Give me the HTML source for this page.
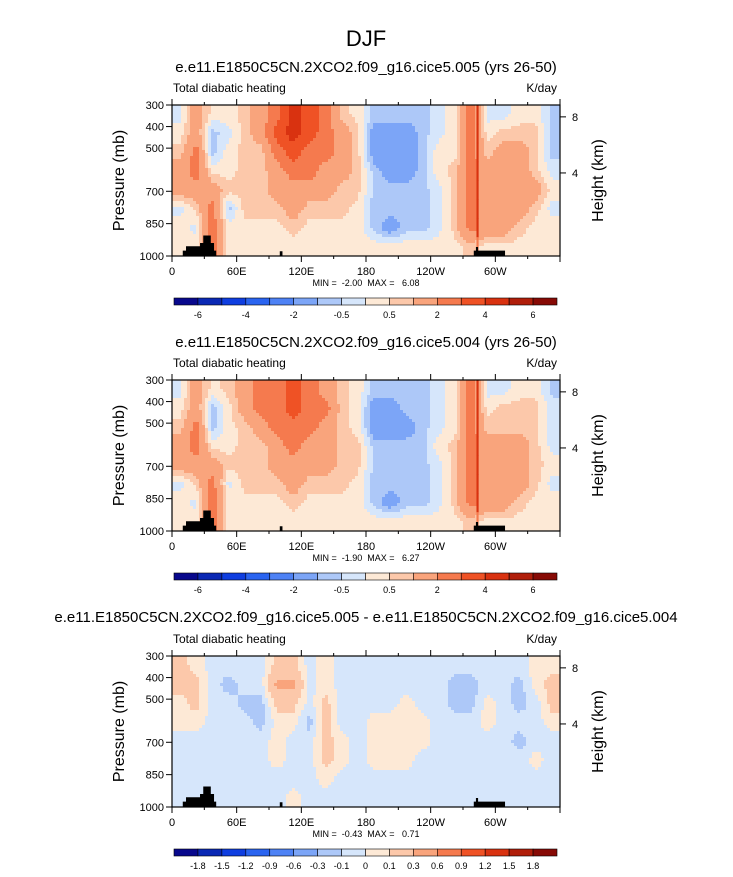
<!DOCTYPE html>
<html><head><meta charset="utf-8">
<style>
body{margin:0;background:#fff;}
svg text{font-family:"Liberation Sans",Arial,sans-serif;white-space:pre;}
</style></head>
<body>
<svg id="fig" width="733" height="872" viewBox="0 0 733 872" xmlns="http://www.w3.org/2000/svg">
<text x="366" y="46" font-size="22" text-anchor="middle">DJF</text>
</svg>
<script>
// ---- data ----
const lonEdges = [0,15,30,45,60,75,90,105,120,135,150,165,180,195,210,225,240,255,270,285,300,315,330,345,360];
const presRows = [300,387.5,475,562.5,650,737.5,825,912.5,1000];
const colors = ["#08088c","#0a28b4","#0f3ee0","#2a64f0","#4e82f5","#7ca5f7","#adc8f8","#d6e6fb","#fde9d6","#fcc8aa","#f9a47c","#f57a4e","#ef5225","#d93210","#b01e0a","#870a05"];
const levelsA = [-6,-5,-4,-3,-2,-1,-0.5,0,0.5,1,2,3,4,5,6];
const labelsA = ["-6","","-4","","-2","","-0.5","","0.5","","2","","4","","6"];
const levelsB = [-1.8,-1.5,-1.2,-0.9,-0.6,-0.3,-0.1,0,0.1,0.3,0.6,0.9,1.2,1.5,1.8];
const labelsB = ["-1.8","-1.5","-1.2","-0.9","-0.6","-0.3","-0.1","0","0.1","0.3","0.6","0.9","1.2","1.5","1.8"];
const xTickLons = [0,60,120,180,240,300];
const xTickLabels = ["0","60E","120E","180","120W","60W"];
const pTicks = [300,400,500,700,850,1000];
const hTicks = [8,4];
const hTickP = [355,615];
const field1 = [
[-0.2,0.3,0.7,1.5,1.5,-0.2,0.3,0.3],
[1.5,1.5,2.5,2.5,1.5,0.7,-0.2,0.3],
[0.3,-0.7,-0.7,0.3,1.5,2.5,2.5,2.5],
[0.3,-0.2,0.3,0.3,0.7,-0.7,0.3,0.3],
[0.7,0.7,0.7,0.7,0.7,0.7,0.3,0.3],
[1.5,1.5,0.7,0.7,0.7,0.7,0.3,0.3],
[2.5,3.5,2.5,1.5,1.5,0.7,0.3,0.3],
[4.5,4.5,3.5,2.5,1.5,1.5,0.7,0.3],
[3.5,3.5,2.5,2.5,1.5,0.7,0.3,0.3],
[2.5,2.5,2.5,1.5,1.5,0.7,0.3,0.3],
[0.7,1.5,1.5,1.5,0.7,0.7,0.3,0.3],
[0.3,0.7,0.7,0.7,0.7,0.3,0.3,0.3],
[-0.7,-1.5,-1.5,-0.7,-0.7,-0.7,-0.7,0.3],
[-0.7,-1.5,-1.5,-1.5,-0.7,-0.7,-1.5,0.3],
[-0.7,-1.5,-1.5,-1.5,-0.7,-0.7,-0.7,0.3],
[-0.7,-0.7,-0.7,-0.7,-0.7,-0.7,-0.7,0.3],
[-0.2,-0.2,0.3,0.3,-0.2,-0.2,-0.2,0.3],
[0.3,0.3,0.3,0.7,0.7,0.7,0.7,0.3],
[2.5,2.5,2.5,2.5,2.5,2.5,2.5,0.7],
[-0.2,0.3,0.7,1.5,1.5,1.5,1.5,0.3],
[-0.2,0.7,1.5,1.5,1.5,1.5,1.5,0.3],
[0.3,0.7,1.5,1.5,1.5,1.5,0.7,0.3],
[0.3,0.7,0.7,0.7,1.5,0.7,0.3,0.3],
[-0.7,-0.7,-0.7,-0.2,0.3,-0.2,0.3,0.3]];
const field2 = [
[-0.2,0.3,0.7,1.5,1.5,-0.2,0.3,0.3],
[1.5,1.5,2.5,2.5,1.5,0.7,-0.2,0.3],
[0.3,-0.7,-0.7,0.3,1.5,2.5,2.5,2.5],
[0.7,0.3,0.3,0.3,0.7,-0.2,0.3,0.3],
[1.5,1.5,0.7,0.7,0.7,0.7,0.3,0.3],
[2.5,2.5,1.5,0.7,0.7,0.7,0.3,0.3],
[2.5,2.5,2.5,1.5,1.5,0.7,0.3,0.3],
[3.5,3.5,2.5,2.5,1.5,1.5,0.7,0.3],
[2.5,2.5,2.5,1.5,1.5,0.7,0.3,0.3],
[1.5,2.5,1.5,1.5,1.5,0.7,0.3,0.3],
[0.7,0.7,0.7,0.7,0.7,0.7,0.3,0.3],
[0.3,0.3,0.3,0.7,0.7,0.3,0.3,0.3],
[-0.7,-1.5,-1.5,-0.7,-0.7,-0.7,-0.7,0.3],
[-0.7,-1.5,-1.5,-0.7,-0.7,-0.7,-1.5,0.3],
[-0.7,-0.7,-1.5,-0.7,-0.7,-0.7,-0.7,0.3],
[-0.7,-0.7,-0.7,-0.7,-0.7,-0.7,-0.7,0.3],
[-0.2,-0.2,-0.2,0.3,-0.2,-0.2,-0.2,0.3],
[0.3,0.3,0.3,0.7,0.7,0.7,0.7,0.3],
[2.5,2.5,2.5,2.5,2.5,2.5,2.5,0.7],
[-0.2,0.3,0.7,1.5,1.5,1.5,1.5,0.3],
[-0.2,0.7,0.7,1.5,1.5,1.5,1.5,0.3],
[0.3,0.7,0.7,1.5,1.5,1.5,0.7,0.3],
[0.3,0.7,0.7,0.7,0.7,0.7,0.3,0.3],
[-0.7,-0.2,-0.2,-0.2,0.3,-0.2,0.3,0.3]];
const field3 = [
[0.15,0.15,0.05,0.05,-0.05,-0.05,-0.05,-0.05],
[0.05,0.15,0.15,0.05,-0.05,-0.05,-0.05,-0.05],
[-0.05,-0.05,-0.05,-0.05,-0.05,-0.05,-0.05,-0.05],
[-0.05,-0.15,-0.05,-0.05,-0.05,-0.05,-0.05,-0.05],
[-0.05,-0.05,-0.15,-0.05,-0.05,-0.05,-0.05,-0.05],
[-0.05,-0.05,-0.15,-0.15,-0.05,-0.05,-0.05,-0.05],
[0.15,0.35,0.15,0.05,0.05,0.05,-0.05,-0.05],
[0.15,0.35,0.15,0.05,-0.05,-0.05,-0.05,0.05],
[-0.05,-0.05,-0.05,-0.15,-0.05,-0.05,-0.05,-0.05],
[0.05,0.05,0.15,0.15,0.15,0.15,0.05,-0.05],
[-0.05,-0.05,-0.05,-0.05,0.05,0.05,-0.05,-0.05],
[-0.05,-0.05,-0.05,-0.05,-0.05,-0.05,-0.05,-0.05],
[-0.05,-0.05,-0.05,0.05,0.05,0.05,-0.05,-0.05],
[-0.05,-0.05,-0.05,0.05,0.05,0.05,-0.05,-0.05],
[-0.05,-0.05,0.05,0.05,0.05,0.05,-0.05,-0.05],
[-0.05,-0.05,-0.05,0.05,0.05,-0.05,-0.05,-0.05],
[-0.05,-0.05,-0.05,-0.05,-0.05,-0.05,-0.05,-0.05],
[-0.05,-0.15,-0.15,-0.05,-0.05,-0.05,-0.05,-0.05],
[-0.05,-0.15,-0.15,-0.05,-0.05,-0.05,-0.05,-0.05],
[-0.05,-0.05,0.05,0.05,-0.05,-0.05,-0.05,-0.05],
[-0.05,-0.05,-0.05,-0.05,-0.05,-0.05,-0.05,-0.05],
[-0.05,-0.15,-0.15,-0.05,-0.15,-0.05,-0.05,-0.05],
[0.05,0.05,-0.05,-0.05,-0.05,0.05,-0.05,-0.05],
[0.05,0.15,0.15,0.05,-0.05,-0.05,-0.05,-0.05]];
const ridgeLon = [282.5,284.5];
const ridge1 = [4.5,4.5,4.5,4.5,4.5,4.5,4.5,2.5];
const ridge2 = [4.5,4.5,4.5,4.5,4.5,4.5,4.5,2.5];
const topoA = [[10,1000],[10,975],[13,975],[13,955],[26,955],[26,940],[29,940],[29,905],[36,905],[36,940],[39,940],[39,975],[41,975],[41,1000]];
const topoB = [[100,1000],[100,978],[102.5,978],[102.5,1000]];
const topoC = [[280,1000],[280,975],[282,975],[282,958],[284,958],[284,975],[309,975],[309,1000]];
const titles = ["e.e11.E1850C5CN.2XCO2.f09_g16.cice5.005 (yrs 26-50)","e.e11.E1850C5CN.2XCO2.f09_g16.cice5.004 (yrs 26-50)","e.e11.E1850C5CN.2XCO2.f09_g16.cice5.005 - e.e11.E1850C5CN.2XCO2.f09_g16.cice5.004"];
const minmax = ["MIN =  -2.00  MAX =   6.08","MIN =  -1.90  MAX =   6.27","MIN =  -0.43  MAX =   0.71"];

// ---- drawing ----
const NS="http://www.w3.org/2000/svg";
const svg=document.getElementById('fig');
function mk(tag,attrs,parent){const e=document.createElementNS(NS,tag);for(const k in attrs)e.setAttribute(k,attrs[k]);(parent||svg).appendChild(e);return e;}
function colorFor(v,levels){let i=0;for(const l of levels)if(v>=l)i++;return colors[i];}
const X0=172,X1=560,W=X1-X0,H=151;
const CB0=174,CB1=557;

function sample(field,lon,p){
  const nc=field.length,nr=field[0].length;
  const dl=360/nc, dp=700/nr;
  let fx=lon/dl-0.5, fy=(p-300)/dp-0.5;
  fx=Math.max(0,Math.min(nc-1,fx)); fy=Math.max(0,Math.min(nr-1,fy));
  const i0=Math.floor(fx),j0=Math.floor(fy),i1=Math.min(nc-1,i0+1),j1=Math.min(nr-1,j0+1);
  const tx=fx-i0,ty=fy-j0;
  const a=field[i0][j0]*(1-tx)+field[i1][j0]*tx;
  const b=field[i0][j1]*(1-tx)+field[i1][j1]*tx;
  return a*(1-ty)+b*ty;
}

function panel(idx,top,titleY,field,ridge,levels,labels){
  const xS=lon=>X0+lon/360*W;
  const yS=p=>top+(p-300)/700*H;
  const t=mk('text',{x:366,y:titleY,'font-size':15,'text-anchor':'middle'});
  
  
  t.textContent=titles[idx-1];
  const l=mk('text',{x:X0+1,y:top-13,'font-size':12});
  
  
  l.textContent='Total diabatic heating';
  const r=mk('text',{x:X1-3,y:top-13,'font-size':12,'text-anchor':'end'});
  
  
  r.textContent='K/day';
  const cid='clip'+idx;
  const cp=mk('clipPath',{id:cid});mk('rect',{x:X0,y:top,width:W,height:H},cp);
  const outer=mk('g',{'clip-path':'url(#'+cid+')'});
  
  
  const step=3;
  const nRows=Math.ceil(H/step);
  for(let px=X0;px<X1;px+=step){
    let runStart=0,runCol=null;
    for(let k=0;k<=nRows;k++){
      let col=null;
      if(k<nRows){
        const lon=(px+step/2-X0)/W*360, p=300+(k*step+step/2)/H*700;
        col=colorFor(sample(field,lon,p),levels);
      }
      if(col!==runCol){
        if(runCol){
          const c=mk('rect',{x:px,y:top+runStart*step,width:step+0.4,height:(k-runStart)*step+0.4,fill:runCol},outer);
          
          
        }
        runCol=col;runStart=k;
      }
    }
  }
  if(ridge){
    ridge.forEach((v,ri)=>{
      let y=yS(presRows[ri]),y2=yS(presRows[ri+1]);
      const c=mk('rect',{x:xS(ridgeLon[0]),y:y,width:xS(ridgeLon[1])-xS(ridgeLon[0]),height:y2-y+0.5,fill:colorFor(v,levels)},outer);
      
      
    });
  }
  [topoA,topoB,topoC].forEach(poly=>{
    const p=mk('polygon',{points:poly.map(q=>xS(q[0])+','+yS(q[1])).join(' '),fill:'#000'},outer);
    
    
  });
  const fr=mk('rect',{x:X0,y:top,width:W,height:H,fill:'none',stroke:'#000','stroke-width':1.2});
  
  
  for(let lon=0;lon<=360;lon+=30){
    const major=lon%60===0;const len=major?6:3;
    mk('line',{x1:xS(lon),x2:xS(lon),y1:top+H,y2:top+H+len,stroke:'#000'});
    mk('line',{x1:xS(lon),x2:xS(lon),y1:top,y2:top-len,stroke:'#000'});
  }
  xTickLons.forEach((lon,i)=>{
    const tx=mk('text',{x:xS(lon),y:top+H+19,'font-size':11,'text-anchor':'middle'});
    
    
    tx.textContent=xTickLabels[i];
  });
  pTicks.forEach(p=>{
    mk('line',{x1:X0-6,x2:X0,y1:yS(p),y2:yS(p),stroke:'#000'});
    const tx=mk('text',{x:X0-8,y:yS(p)+4,'font-size':11,'text-anchor':'end'});
    
    
    tx.textContent=p;
  });
  hTicks.forEach((h,i)=>{
    const y=yS(hTickP[i]);
    mk('line',{x1:X1,x2:X1+6,y1:y,y2:y,stroke:'#000'});
    const tx=mk('text',{x:X1+12,y:y+4,'font-size':11});
    
    
    tx.textContent=h;
  });
  const ya=mk('text',{x:0,y:0,'font-size':16,'text-anchor':'middle',transform:`translate(124,${top+H/2}) rotate(-90)`});
  
  
  ya.textContent='Pressure (mb)';
  const ha=mk('text',{x:0,y:0,'font-size':16,'text-anchor':'middle',transform:`translate(603,${top+H/2}) rotate(-90)`});
  
  
  ha.textContent='Height (km)';
  const mm=mk('text',{x:366,y:top+H+30,'font-size':9,'text-anchor':'middle'});
  
  
  mm.textContent=minmax[idx-1];
  const cy=top+H+42,ch=7,bw=(CB1-CB0)/colors.length;
  const cb=mk('g',{});
  
  
  colors.forEach((c,i)=>{
    const b=mk('rect',{x:CB0+i*bw,y:cy,width:bw,height:ch,fill:c,stroke:'#000','stroke-width':0.6},cb);
    
    
  });
  labels.forEach((s,i)=>{
    if(!s)return;
    const tx=mk('text',{x:CB0+(i+1)*bw,y:cy+20,'font-size':9,'text-anchor':'middle'},cb);
    
    
    tx.textContent=s;
  });
}
panel(1,105,72,field1,ridge1,levelsA,labelsA);
panel(2,380,347,field2,ridge2,levelsA,labelsA);
panel(3,656,622,field3,null,levelsB,labelsB);
</script>
</body></html>
